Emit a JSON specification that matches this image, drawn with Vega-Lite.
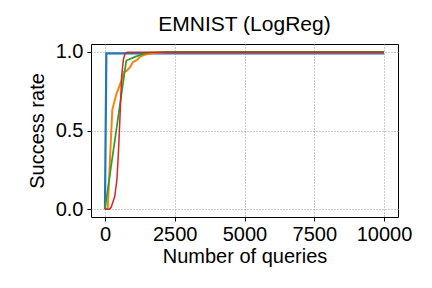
{
  "$schema": "https://vega.github.io/schema/vega-lite/v6.json",
  "autosize": "none",
  "width": 307,
  "height": 173,
  "padding": {"left": 91, "top": 44, "right": 34, "bottom": 71},
  "background": "white",
  "title": {"text": "EMNIST (LogReg)", "fontSize": 21, "font": "Liberation Sans", "fontWeight": "normal", "color": "black", "offset": 7},
  "config": {
    "view": {"stroke": "black", "strokeWidth": 1},
    "font": "Liberation Sans"
  },
  "data": {"values": [
    {"s": "a", "x": 0, "y": 0}, {"s": "a", "x": 50, "y": 0.99}, {"s": "a", "x": 10000, "y": 0.99},
    {"s": "b", "x": 0, "y": 0}, {"s": "b", "x": 100, "y": 0.005}, {"s": "b", "x": 262, "y": 0.63},
    {"s": "b", "x": 405, "y": 0.73}, {"s": "b", "x": 500, "y": 0.774}, {"s": "b", "x": 597, "y": 0.82},
    {"s": "b", "x": 680, "y": 0.873}, {"s": "b", "x": 764, "y": 0.877}, {"s": "b", "x": 907, "y": 0.905},
    {"s": "b", "x": 1002, "y": 0.935}, {"s": "b", "x": 1122, "y": 0.945}, {"s": "b", "x": 1241, "y": 0.966},
    {"s": "b", "x": 1420, "y": 0.982}, {"s": "b", "x": 1718, "y": 0.992}, {"s": "b", "x": 2200, "y": 0.997},
    {"s": "b", "x": 10000, "y": 0.998},
    {"s": "c", "x": 0, "y": 0}, {"s": "c", "x": 764, "y": 0.945}, {"s": "c", "x": 1071, "y": 0.968},
    {"s": "c", "x": 1429, "y": 0.99}, {"s": "c", "x": 1607, "y": 0.996}, {"s": "c", "x": 2500, "y": 1.0},
    {"s": "c", "x": 10000, "y": 1.0},
    {"s": "d", "x": 0, "y": 0}, {"s": "d", "x": 150, "y": 0.0}, {"s": "d", "x": 220, "y": 0.01},
    {"s": "d", "x": 350, "y": 0.08}, {"s": "d", "x": 430, "y": 0.19}, {"s": "d", "x": 480, "y": 0.35},
    {"s": "d", "x": 530, "y": 0.55}, {"s": "d", "x": 600, "y": 0.85}, {"s": "d", "x": 660, "y": 0.95},
    {"s": "d", "x": 720, "y": 0.99}, {"s": "d", "x": 800, "y": 0.997}, {"s": "d", "x": 10000, "y": 0.997}
  ]},
  "mark": {"type": "line", "clip": true},
  "encoding": {
    "x": {
      "field": "x", "type": "quantitative",
      "scale": {"domain": [-500, 10500], "nice": false, "zero": false},
      "axis": {
        "title": "Number of queries", "values": [0, 2500, 5000, 7500, 10000], "format": "d",
        "grid": true, "gridDash": [1, 2], "gridColor": "#999999", "gridWidth": 1,
        "domain": false, "tickColor": "black", "tickSize": 4, "tickWidth": 1,
        "labelFontSize": 20, "labelColor": "black", "labelPadding": 3, "labelFont": "Liberation Sans",
        "titleFontSize": 20, "titleColor": "black", "titleFontWeight": "normal", "titlePadding": 2, "titleFont": "Liberation Sans",
        "labelFlush": false
      }
    },
    "y": {
      "field": "y", "type": "quantitative",
      "scale": {"domain": [-0.05, 1.05], "nice": false, "zero": false},
      "axis": {
        "title": "Success rate", "values": [0, 0.5, 1.0], "format": ".1f",
        "grid": true, "gridDash": [1, 2], "gridColor": "#999999", "gridWidth": 1,
        "domain": false, "tickColor": "black", "tickSize": 4, "tickWidth": 1,
        "labelFontSize": 20, "labelColor": "black", "labelPadding": 4, "labelFont": "Liberation Sans",
        "titleFontSize": 20, "titleColor": "black", "titleFontWeight": "normal", "titlePadding": 8, "titleFont": "Liberation Sans",
        "labelFlush": false
      }
    },
    "color": {
      "field": "s", "type": "nominal",
      "scale": {"domain": ["a", "b", "c", "d"], "range": ["#1f77b4", "#ff7f0e", "#2ca02c", "#d62728"]},
      "legend": null
    },
    "strokeWidth": {
      "field": "s", "type": "nominal",
      "scale": {"domain": ["a", "b", "c", "d"], "range": [2.2, 1.5, 1.5, 1.5]},
      "legend": null
    },
    "order": {"field": "x", "type": "quantitative"}
  }
}
